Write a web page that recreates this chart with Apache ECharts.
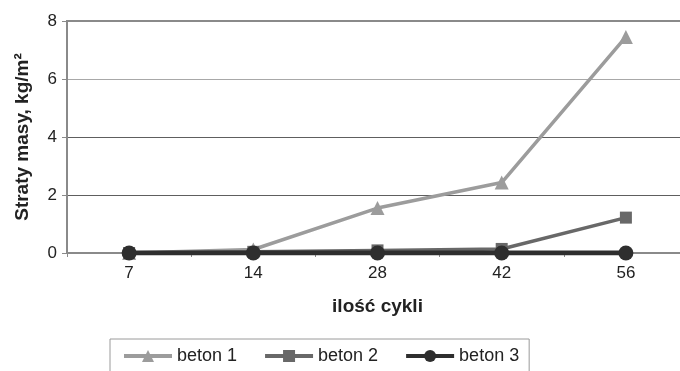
<!DOCTYPE html>
<html>
<head>
<meta charset="utf-8">
<script src="https://cdn.jsdelivr.net/npm/echarts@6/dist/echarts.min.js"></script>
<style>
  html, body { margin: 0; padding: 0; background: #fff; }
  #chart { width: 680px; height: 371px; }
</style>
</head>
<body>
<div id="chart"></div>
<script>
// Mass loss of concrete samples after freeze–thaw cycles
const cycles = ['7', '14', '28', '42', '56'];
const beton1 = [0, 0.12, 1.55, 2.43, 7.45];
const beton2 = [0, 0.04, 0.09, 0.14, 1.22];
const beton3 = [0, 0, 0, 0, 0];
const yTicks = [0, 2, 4, 6, 8];

const FONT = '"Liberation Sans", Arial, sans-serif';

const chart = echarts.init(document.getElementById('chart'), null, { renderer: 'canvas' });

chart.setOption({
  backgroundColor: '#ffffff',
  animation: false,
  grid: {
    left: 67, top: 21, width: 621, height: 232,
    outerBoundsMode: 'none',
    containLabel: false,
    show: true, borderColor: '#8a8a8a', borderWidth: 2, backgroundColor: 'transparent'
  },
  legend: {
    left: 110, top: 339,
    padding: [8, 10, 12, 12],
    borderColor: '#9a9a9a', borderWidth: 1,
    itemWidth: 48, itemHeight: 15, itemGap: 26,
    lineStyle: { width: 4 },
    textStyle: { fontFamily: FONT, fontSize: 18, color: '#222' },
    data: ['beton 1', 'beton 2', 'beton 3']
  },
  xAxis: {
    type: 'category',
    data: cycles,
    boundaryGap: true,
    name: 'ilość cykli',
    nameLocation: 'middle',
    nameGap: 44,
    nameTextStyle: { fontFamily: FONT, fontSize: 19, fontWeight: 'bold', color: '#222' },
    axisLine: { lineStyle: { color: '#8a8a8a', width: 2 } },
    axisTick: { show: true, length: 4, inside: false, lineStyle: { color: '#8a8a8a', width: 1 } },
    axisLabel: { fontFamily: FONT, fontSize: 17, color: '#222', margin: 12 },
    splitLine: { show: false }
  },
  yAxis: {
    type: 'value',
    min: yTicks[0], max: yTicks[yTicks.length - 1], interval: 2,
    name: 'Straty masy, kg/m²',
    nameLocation: 'middle',
    nameGap: 35,
    nameTextStyle: { fontFamily: FONT, fontSize: 19, fontWeight: 'bold', color: '#222' },
    axisLine: { show: true, lineStyle: { color: '#8a8a8a', width: 2 } },
    axisTick: { show: true, length: 5, lineStyle: { color: '#8a8a8a', width: 1 } },
    axisLabel: { fontFamily: FONT, fontSize: 17, color: '#222', margin: 10 },
    splitLine: {
      show: true,
      lineStyle: { color: ['#8a8a8a', '#5e5e5e', '#5e5e5e', '#a8a8a8', '#8a8a8a'], width: 1 }
    }
  },
  series: [
    {
      name: 'beton 1', type: 'line', data: beton1,
      symbol: 'triangle', symbolSize: 14, z: 3,
      lineStyle: { color: '#9c9c9c', width: 3.5 },
      itemStyle: { color: '#9c9c9c' }
    },
    {
      name: 'beton 2', type: 'line', data: beton2,
      symbol: 'rect', symbolSize: 12, z: 4,
      lineStyle: { color: '#686868', width: 3.5 },
      itemStyle: { color: '#686868' }
    },
    {
      name: 'beton 3', type: 'line', data: beton3,
      symbol: 'circle', symbolSize: 15, z: 5,
      lineStyle: { color: '#2e2e2e', width: 5 },
      itemStyle: { color: '#2e2e2e' }
    }
  ]
});
</script>
</body>
</html>
